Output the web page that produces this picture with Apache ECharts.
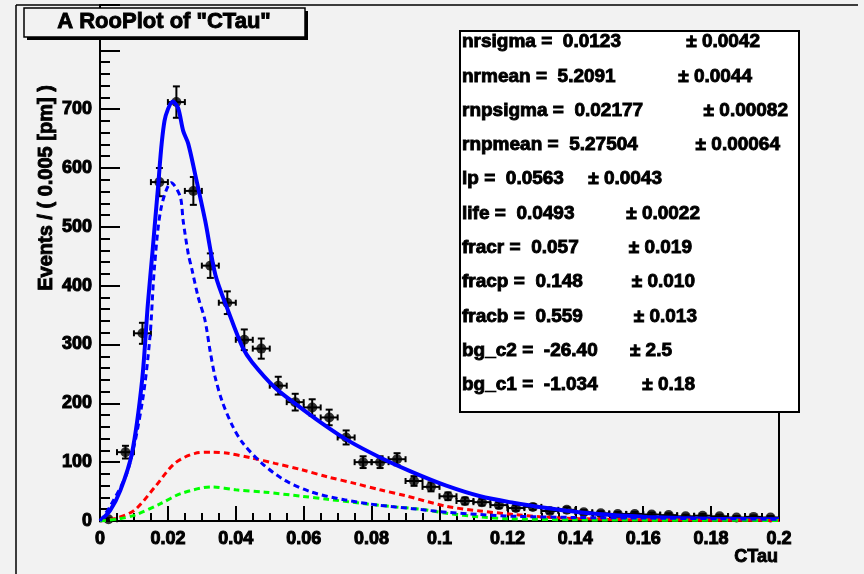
<!DOCTYPE html>
<html>
<head>
<meta charset="utf-8">
<script src="https://cdn.jsdelivr.net/npm/echarts@6/dist/echarts.min.js"></script>
<style>
  html, body { margin: 0; padding: 0; background: #f2f2f2; }
  #chart { width: 864px; height: 574px; }
</style>
</head>
<body>
<div id="chart"></div>
<script>
// binned data (bin width 0.005)
const binCenters = [
  0.0025, 0.0075, 0.0125, 0.0175, 0.0225, 0.0275, 0.0325, 0.0375, 0.0425, 0.0475,
  0.0525, 0.0575, 0.0625, 0.0675, 0.0725, 0.0775, 0.0825, 0.0875, 0.0925, 0.0975,
  0.1025, 0.1075, 0.1125, 0.1175, 0.1225, 0.1275, 0.1325, 0.1375, 0.1425, 0.1475,
  0.1525, 0.1575, 0.1625, 0.1675, 0.1725, 0.1775, 0.1825, 0.1875, 0.1925, 0.1975
]
const counts = [
  3, 117, 319, 576, 712, 561, 434, 371, 308, 293,
  230, 202, 193, 176, 142, 100, 100, 105, 68, 58,
  42, 34, 32, 27, 22, 24, 17, 19, 15, 13,
  12, 12, 11, 10, 8, 9, 8, 6, 7, 6
]
const binHalfWidth = 0.0025

// fitted pdf curves
const totalFit = [
  [0, 0], [0.003, 18], [0.006, 52], [0.0094, 115], [0.0124, 239], [0.0141, 369],
  [0.0155, 460], [0.017, 561], [0.019, 680], [0.0215, 713], [0.023, 702],
  [0.0245, 663], [0.026, 641], [0.028, 590], [0.031, 510], [0.034, 418],
  [0.0377, 358], [0.042, 295], [0.0448, 270], [0.0515, 227], [0.0574, 200],
  [0.0654, 166], [0.073, 137], [0.0825, 108], [0.092, 83], [0.102, 60],
  [0.112, 42], [0.1217, 31], [0.1316, 22], [0.141, 15], [0.151, 10],
  [0.161, 7], [0.171, 5], [0.18, 4], [0.2, 3]
]
const promptFit = [
  [0, 0], [0.003, 25], [0.0082, 86], [0.0124, 200], [0.0147, 312], [0.016, 428],
  [0.018, 532], [0.021, 575], [0.0236, 552], [0.0245, 510], [0.026, 454],
  [0.0271, 427], [0.0289, 381], [0.0309, 342], [0.0324, 290], [0.0339, 245],
  [0.036, 203], [0.039, 162], [0.042, 133], [0.0477, 98], [0.0545, 69],
  [0.0624, 49], [0.072, 36], [0.082, 27], [0.092, 21], [0.102, 15],
  [0.112, 11], [0.122, 8], [0.14, 6], [0.16, 5], [0.2, 3]
]
const redFit = [
  [0, 0], [0.005, 5], [0.0103, 19], [0.0162, 58], [0.022, 98], [0.028, 115],
  [0.033, 117], [0.0377, 115], [0.0448, 107], [0.0515, 98], [0.0595, 87],
  [0.067, 75], [0.075, 64], [0.0825, 53], [0.09, 43], [0.102, 25],
  [0.112, 17], [0.122, 11], [0.13, 7], [0.141, 4], [0.16, 2], [0.2, 1]
]
const greenFit = [
  [0, 0], [0.005, 3], [0.0103, 10], [0.018, 30], [0.024, 47], [0.033, 58],
  [0.04, 53], [0.0486, 49], [0.0595, 42], [0.067, 37], [0.077, 30],
  [0.087, 24], [0.0957, 19], [0.102, 13], [0.112, 7], [0.12, 4],
  [0.14, 2], [0.2, 1]
]

// fit results box
const statNames = ['nrsigma', 'nrmean', 'rnpsigma', 'rnpmean', 'lp', 'life', 'fracr', 'fracp', 'fracb', 'bg_c2', 'bg_c1']
const statValues = ['0.0123', '5.2091', '0.02177', '5.27504', '0.0563', '0.0493', '0.057', '0.148', '0.559', '-26.40', '-1.034']
const statErrors = ['0.0042', '0.0044', '0.00082', '0.00064', '0.0043', '0.0022', '0.019', '0.010', '0.013', '2.5', '0.18']
// right end of each line in the box
const statRowEnd = [760, 752, 788, 780, 662, 700, 692, 695, 697, 672, 695]

const FONT = 'Liberation Sans'
const BG = '#f2f2f2'

const boldText = (size) => ({
  fontFamily: FONT,
  fontWeight: 'bold',
  fontSize: size,
  fill: '#000',
  stroke: '#000',
  lineWidth: 0.9,
})

const statTexts = []
statNames.forEach((name, i) => {
  const y = 42 + i * 34.3
  statTexts.push(
    { type: 'text', x: 462, y, z: 12, style: { ...boldText(19), text: name + ' =  ' + statValues[i], verticalAlign: 'middle' } },
    { type: 'text', x: statRowEnd[i], y, z: 12, style: { ...boldText(19), text: '\u00b1 ' + statErrors[i], align: 'right', verticalAlign: 'middle' } },
  )
})

const chart = echarts.init(document.getElementById('chart'), null, { renderer: 'canvas' })

const dashed = (data, color) => ({
  type: 'line',
  data,
  smooth: 0.3,
  showSymbol: false,
  silent: true,
  lineStyle: { color, width: 3, type: [6, 4] },
  z: 4,
})

chart.setOption({
  backgroundColor: BG,
  animation: false,
  grid: { left: 100, top: 5, width: 679, height: 516, show: false },
  xAxis: {
    type: 'value',
    min: 0,
    max: 0.2,
    interval: 0.02,
    axisLine: { onZero: false, lineStyle: { color: '#000', width: 2 } },
    axisTick: { inside: true, length: 15, lineStyle: { color: '#000', width: 2 } },
    minorTick: { show: true, splitNumber: 4, length: 8, lineStyle: { color: '#000', width: 2 } },
    splitLine: { show: false },
    axisLabel: {
      color: '#000', fontFamily: FONT, fontWeight: 'bold', fontSize: 18, margin: 9,
      textBorderColor: '#000', textBorderWidth: 1,
      formatter: (v) => String(Math.round(v * 100) / 100),
    },
  },
  yAxis: {
    type: 'value',
    min: 0,
    max: 877,
    interval: 100,
    axisLine: { show: true, onZero: false, lineStyle: { color: '#000', width: 2 } },
    axisTick: { show: true, inside: true, length: 20, lineStyle: { color: '#000', width: 2 } },
    minorTick: { show: true, splitNumber: 5, length: 10, lineStyle: { color: '#000', width: 2 } },
    splitLine: { show: false },
    axisLabel: {
      color: '#000', fontFamily: FONT, fontWeight: 'bold', fontSize: 18, margin: 8,
      textBorderColor: '#000', textBorderWidth: 1,
      showMaxLabel: false,
      // top labels are hidden under the title in the original
      formatter: (v) => (v > 750 ? '' : String(v)),
    },
  },
  series: [
    {
      type: 'custom',
      silent: true,
      clip: false,
      z: 2,
      data: binCenters.map((x, i) => [x, counts[i]]),
      renderItem: (params, api) => {
        const x = api.value(0)
        const y = api.value(1)
        const err = Math.sqrt(y)
        const lo = api.coord([x, y - err])
        const hi = api.coord([x, y + err])
        const l = api.coord([x - binHalfWidth, y])
        const r = api.coord([x + binHalfWidth, y])
        const st = { stroke: '#000', lineWidth: 2 }
        const line = (x1, y1, x2, y2) => ({ type: 'line', shape: { x1, y1, x2, y2 }, style: st })
        return {
          type: 'group',
          children: [
            line(lo[0], lo[1], hi[0], hi[1]),
            line(lo[0] - 3.5, lo[1], lo[0] + 3.5, lo[1]),
            line(hi[0] - 3.5, hi[1], hi[0] + 3.5, hi[1]),
            line(l[0], l[1], r[0], r[1]),
            line(l[0], l[1] - 3, l[0], l[1] + 3),
            line(r[0], r[1] - 3, r[0], r[1] + 3),
          ],
        }
      },
    },
    {
      type: 'scatter',
      data: binCenters.map((x, i) => [x, counts[i]]),
      symbol: 'circle',
      symbolSize: 10,
      itemStyle: { color: '#000' },
      silent: true,
      z: 3,
    },
    {
      type: 'line',
      data: totalFit,
      smooth: 0.3,
      showSymbol: false,
      silent: true,
      lineStyle: { color: '#0000ff', width: 4 },
      z: 4,
    },
    dashed(redFit, '#ff0000'),
    dashed(greenFit, '#00ff00'),
    dashed(promptFit, '#0000ff'),
  ],
  graphic: [
    // canvas borders
    { type: 'line', shape: { x1: 16, y1: 5, x2: 858, y2: 5 }, style: { stroke: '#000', lineWidth: 1.5 }, z: 1 },
    { type: 'line', shape: { x1: 16, y1: 5, x2: 16, y2: 574 }, style: { stroke: '#000', lineWidth: 1.5 }, z: 1 },
    // right edge of frame below the stats box
    { type: 'line', shape: { x1: 779, y1: 412, x2: 779, y2: 521 }, style: { stroke: '#000', lineWidth: 2 }, z: 1 },
    // title box with shadow
    { type: 'rect', shape: { x: 27, y: 11, width: 281, height: 29 }, style: { fill: '#000' }, z: 10 },
    { type: 'rect', shape: { x: 24, y: 8, width: 281, height: 29 }, style: { fill: BG, stroke: '#000', lineWidth: 1.5 }, z: 11 },
    { type: 'text', x: 164, y: 22, z: 12, style: { ...boldText(22), text: 'A RooPlot of "CTau"', align: 'center', verticalAlign: 'middle' } },
    // fit parameter box
    { type: 'rect', shape: { x: 460, y: 31, width: 339, height: 381 }, style: { fill: '#fff', stroke: '#000', lineWidth: 2 }, z: 10 },
    ...statTexts,
    // axis titles
    { type: 'text', x: 46, y: 188, rotation: Math.PI / 2, z: 12, style: { ...boldText(20), text: 'Events / ( 0.005 [pm] )', align: 'center', verticalAlign: 'middle' } },
    { type: 'text', x: 778, y: 557, z: 12, style: { ...boldText(18), text: 'CTau', align: 'right', verticalAlign: 'middle' } },
  ],
})
</script>
</body>
</html>
